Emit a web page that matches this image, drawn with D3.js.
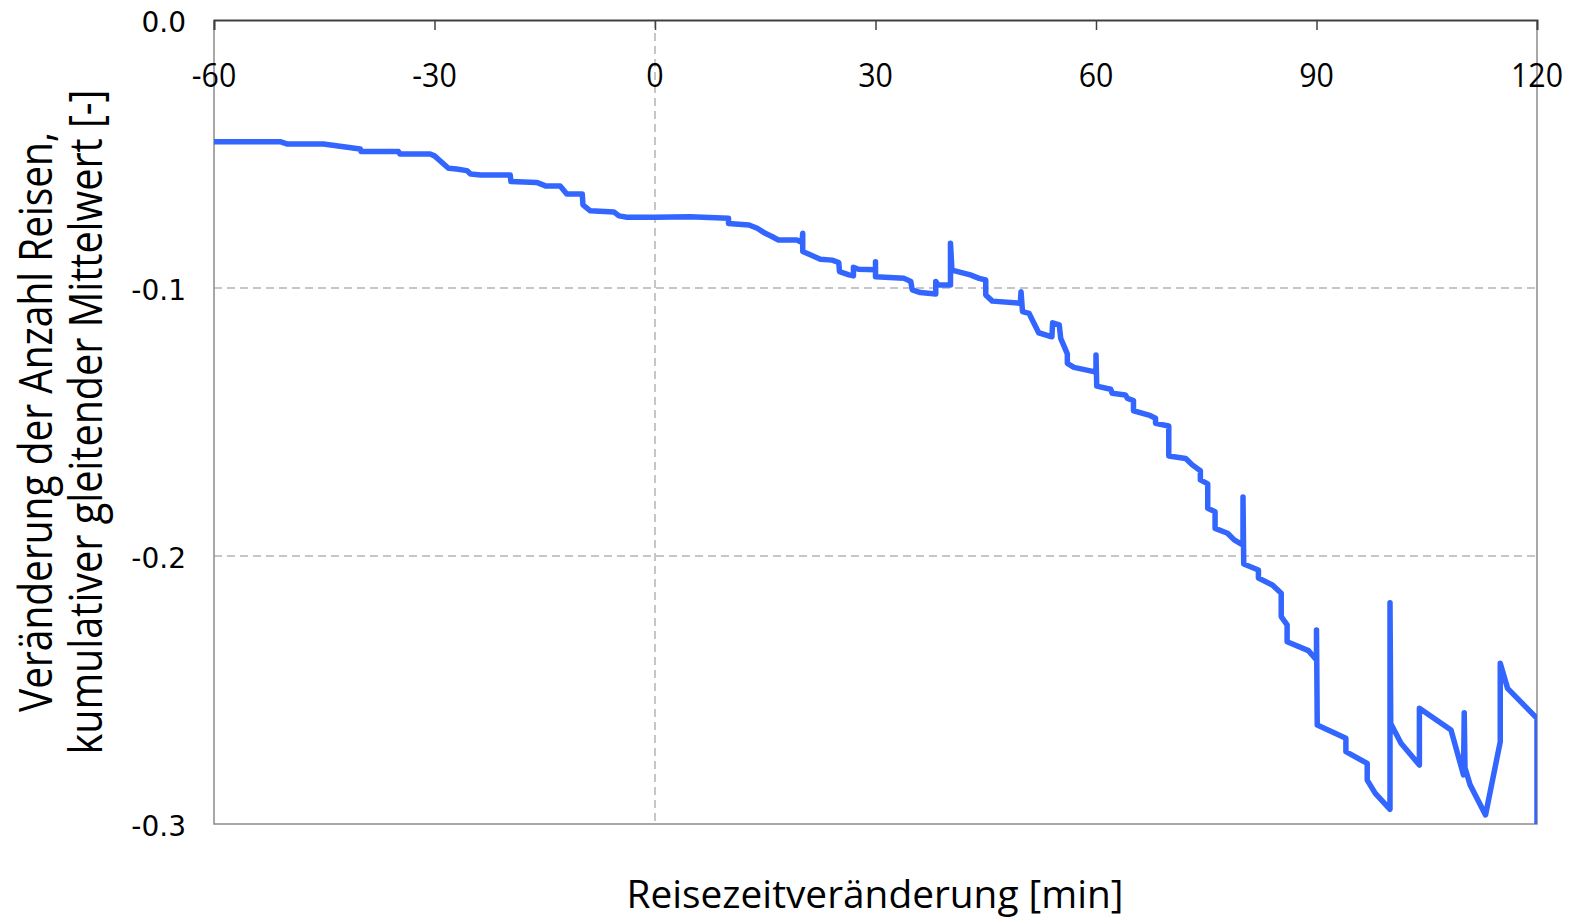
<!DOCTYPE html>
<html>
<head>
<meta charset="utf-8">
<script src="https://cdn.jsdelivr.net/npm/d3@7"></script>
<style>
  html, body { margin: 0; padding: 0; background: #fff; }
  svg { display: block; }
</style>
</head>
<body>
<svg id="chart" width="1579" height="922"></svg>
<script>
// Cumulative moving average of the change in number of trips vs. travel-time change
const travelTimeChange = [
  -60, -51.0, -50.0, -45.1, -40.1, -40.0, -34.9, -34.7, -30.6, -30.0,
  -28.1, -27.0, -25.6, -25.1, -23.7, -19.7, -19.6, -16.1, -14.9, -12.9,
  -12.0, -9.9, -9.8, -8.8, -5.6, -4.9, -3.8, 0, 4.8, 10.0,
  10.0, 12.8, 13.9, 15.0, 15.9, 16.8, 19.3, 20.0, 20.1, 20.1,
  21.2, 22.5, 24.1, 25.0, 25.1, 26.4, 27.0, 27.0, 27.7, 30.0,
  30.0, 30.0, 33.9, 34.8, 35.0, 36.1, 38.2, 38.2, 38.5, 40.2,
  40.2, 40.4, 42.9, 44.1, 45.0, 45.0, 45.9, 49.7, 49.8, 50.0,
  50.9, 52.2, 54.0, 54.1, 55.0, 55.2, 56.1, 56.1, 57.0, 59.7,
  60.0, 60.0, 60.1, 62.0, 62.2, 64.0, 64.3, 65.1, 65.1, 67.2,
  68.1, 68.1, 69.9, 69.9, 72.2, 73.1, 74.2, 74.2, 75.2, 75.2,
  76.2, 76.2, 77.9, 78.8, 80.0, 80.0, 80.1, 82.1, 82.1, 84.0,
  85.2, 85.2, 86.0, 86.0, 88.9, 90.0, 90.0, 90.1, 94.0, 94.0,
  96.9, 96.9, 98.0, 100.0, 100.0, 100.1, 101.5, 104.0, 104.0, 108.3,
  110.0, 110.1, 110.2, 110.9, 113.0, 115.0, 115.0, 116.0, 120.0, 120.0
];
const tripChange = [
  -0.0454, -0.0454, -0.0463, -0.0463, -0.0481, -0.0491, -0.0491, -0.0500, -0.0500, -0.0507,
  -0.0553, -0.0556, -0.0562, -0.0575, -0.0578, -0.0578, -0.0603, -0.0606, -0.0619, -0.0619,
  -0.0649, -0.0649, -0.0690, -0.0712, -0.0716, -0.0731, -0.0736, -0.0736, -0.0734, -0.0740,
  -0.0759, -0.0765, -0.0777, -0.0796, -0.0808, -0.0821, -0.0821, -0.0830, -0.0796, -0.0864,
  -0.0877, -0.0893, -0.0896, -0.0905, -0.0939, -0.0951, -0.0955, -0.0923, -0.0930, -0.0932,
  -0.0902, -0.0958, -0.0964, -0.0976, -0.1007, -0.1017, -0.1022, -0.0976, -0.0989, -0.0989,
  -0.0833, -0.0933, -0.0951, -0.0964, -0.0970, -0.1026, -0.1049, -0.1057, -0.1014, -0.1088,
  -0.1095, -0.1167, -0.1182, -0.1130, -0.1138, -0.1188, -0.1246, -0.1281, -0.1296, -0.1312,
  -0.1315, -0.1250, -0.1366, -0.1378, -0.1393, -0.1399, -0.1412, -0.1420, -0.1458, -0.1474,
  -0.1486, -0.1505, -0.1515, -0.1627, -0.1636, -0.1660, -0.1682, -0.1716, -0.1731, -0.1822,
  -0.1835, -0.1897, -0.1915, -0.1940, -0.1959, -0.1780, -0.2030, -0.2052, -0.2082, -0.2108,
  -0.2139, -0.2226, -0.2257, -0.2320, -0.2353, -0.2388, -0.2276, -0.2631, -0.2680, -0.2730,
  -0.2774, -0.2836, -0.2886, -0.2945, -0.2174, -0.2625, -0.2699, -0.2780, -0.2568, -0.2649,
  -0.2817, -0.2585, -0.2790, -0.2854, -0.2966, -0.2693, -0.2400, -0.2494, -0.2606, -0.3000
];

const xTicks = [-60, -30, 0, 30, 60, 90, 120];
const yTicks = [0, -0.1, -0.2, -0.3];
const xTitle = "Reisezeitveränderung [min]";
const yTitleLines = ["Veränderung der Anzahl Reisen,", "kumulativer gleitender Mittelwert [-]"];

const plot = { left: 214, right: 1537, top: 20, bottom: 824 };

const svg = d3.select("#chart");

const x = d3.scaleLinear().domain([-60, 120]).range([plot.left, plot.right]);
const y = d3.scaleLinear().domain([0, -0.3]).range([plot.top, plot.bottom]);

// Plain hyphen-minus for negative numbers
const fmtX = v => d3.format("d")(v).replace("\u2212", "-");
const fmtY = v => d3.format(".1f")(v).replace("\u2212", "-");

// Horizontal dashed gridlines
svg.append("g")
  .selectAll("line")
  .data(yTicks.filter(v => v !== 0 && v !== -0.3))
  .join("line")
  .attr("x1", plot.left).attr("x2", plot.right)
  .attr("y1", d => y(d)).attr("y2", d => y(d))
  .attr("stroke", "#b4b4b4").attr("stroke-width", 1.5)
  .attr("stroke-dasharray", "8,5");

// Vertical dashed line at zero travel-time change
svg.append("line")
  .attr("x1", x(0)).attr("x2", x(0))
  .attr("y1", plot.top).attr("y2", plot.bottom)
  .attr("stroke", "#b4b4b4").attr("stroke-width", 1.5)
  .attr("stroke-dasharray", "8,5");

// Plot-area border (left, right, bottom)
svg.append("path")
  .attr("d", `M${plot.left},${plot.top}V${plot.bottom}H${plot.right}V${plot.top}`)
  .attr("fill", "none").attr("stroke", "#8c8c8c").attr("stroke-width", 1.5);

// X axis along the top (y = 0), ticks pointing into the plot
const xAxis = d3.axisBottom(x).tickValues(xTicks).tickSize(10).tickFormat("");
svg.append("g")
  .attr("transform", `translate(0,${plot.top})`)
  .call(xAxis)
  .call(g => g.select(".domain").attr("stroke", "#404040").attr("stroke-width", 1.8))
  .call(g => g.selectAll(".tick line").attr("stroke", "#404040").attr("stroke-width", 1.5));

// X tick labels
svg.append("g")
  .selectAll("text")
  .data(xTicks)
  .join("text")
  .attr("transform", d => `translate(${x(d)},87) scale(0.92,1)`)
  .attr("text-anchor", "middle")
  .attr("font-family", "'Open Sans', sans-serif")
  .attr("font-size", 33)
  .attr("fill", "#000")
  .text(fmtX);

// Y tick labels
svg.append("g")
  .selectAll("text")
  .data(yTicks)
  .join("text")
  .attr("x", 186)
  .attr("y", d => y(d) + 11.5)
  .attr("text-anchor", "end")
  .attr("font-family", "'DejaVu Sans', sans-serif")
  .attr("font-size", 28)
  .attr("fill", "#000")
  .text(fmtY);

// Data line
svg.append("clipPath").attr("id", "plot-clip")
  .append("rect")
  .attr("x", plot.left).attr("y", plot.top)
  .attr("width", plot.right - plot.left).attr("height", plot.bottom - plot.top);

const points = travelTimeChange.map((v, i) => [v, tripChange[i]]);
const line = d3.line().x(d => x(d[0])).y(d => y(d[1]));

svg.append("path")
  .datum(points)
  .attr("clip-path", "url(#plot-clip)")
  .attr("d", line)
  .attr("fill", "none")
  .attr("stroke", "#3366ff")
  .attr("stroke-width", 5.5)
  .attr("stroke-linejoin", "round")
  .attr("stroke-linecap", "round");

// X axis title
svg.append("text")
  .attr("x", 875)
  .attr("y", 908)
  .attr("text-anchor", "middle")
  .attr("font-family", "'Open Sans', sans-serif")
  .attr("font-size", 39)
  .attr("textLength", 497)
  .attr("lengthAdjust", "spacingAndGlyphs")
  .attr("fill", "#000")
  .text(xTitle);

// Y axis title (two lines, rotated)
const yCenter = (plot.top + plot.bottom) / 2;
const yTitleBaselines = [52, 102];
const yTitleLengths = [580, 665];
yTitleLines.forEach((t, i) => {
  svg.append("text")
    .attr("transform", `translate(${yTitleBaselines[i]},${yCenter}) rotate(-90)`)
    .attr("text-anchor", "middle")
    .attr("font-family", "'Open Sans', sans-serif")
    .attr("font-size", 45)
    .attr("textLength", yTitleLengths[i])
    .attr("lengthAdjust", "spacingAndGlyphs")
    .attr("fill", "#000")
    .text(t);
});
</script>
</body>
</html>
